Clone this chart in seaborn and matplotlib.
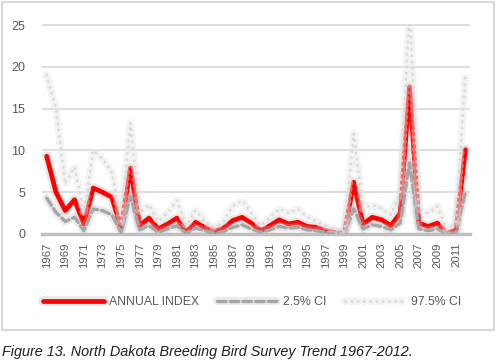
import numpy as np
import pandas as pd
import matplotlib
matplotlib.use("Agg")
import matplotlib.pyplot as plt
import matplotlib.patheffects as pe
from matplotlib.patches import Rectangle
import seaborn as sns

# ============================================================
# DATA
# ============================================================

years = list(range(1967, 2013))

annual_index = [9.3, 5.0, 2.8, 4.1, 1.2, 5.5, 5.0, 4.4, 0.7, 7.9,
                1.0, 1.9, 0.6, 1.2, 1.9, 0.2, 1.4, 0.8, 0.3, 0.7,
                1.6, 2.0, 1.3, 0.4, 1.0, 1.7, 1.2, 1.4, 0.9, 0.8,
                0.4, 0.2, 0.05, 6.2, 1.2, 2.0, 1.7, 1.0, 2.5, 17.6,
                1.3, 0.9, 1.3, 0.1, 0.5, 10.1]

ci_low = [4.3, 2.6, 1.5, 2.0, 0.4, 3.0, 2.8, 2.3, 0.2, 4.5,
          0.5, 1.0, 0.2, 0.6, 1.0, 0.1, 0.7, 0.4, 0.1, 0.3,
          0.8, 1.1, 0.6, 0.2, 0.5, 0.9, 0.7, 0.8, 0.5, 0.4,
          0.2, 0.1, 0.0, 3.0, 0.6, 1.1, 0.9, 0.5, 1.3, 8.5,
          0.6, 0.4, 0.6, 0.0, 0.2, 5.0]

ci_high = [19.0, 15.0, 6.0, 8.0, 2.5, 10.0, 9.0, 7.5, 1.5, 13.3,
           2.5, 3.5, 1.5, 2.5, 4.0, 1.0, 2.8, 1.5, 0.8, 1.5,
           3.3, 4.0, 2.5, 1.0, 2.0, 3.0, 2.5, 3.0, 2.0, 1.5,
           1.0, 0.5, 0.3, 12.0, 3.0, 3.5, 3.0, 2.3, 5.0, 27.0,
           3.0, 2.5, 3.3, 0.5, 1.5, 19.0]

yticks = [0, 5, 10, 15, 20, 25]

df = pd.DataFrame({
    "pos": np.arange(len(years)),
    "ANNUAL INDEX": annual_index,
    "2.5% CI": ci_low,
    "97.5% CI": ci_high,
})

# ============================================================
# STYLE
# ============================================================

sns.set_style("white")
plt.rcParams['font.family'] = ['Liberation Sans', 'DejaVu Sans']

txt_color = "#595959"

fig = plt.figure(figsize=(4.97, 3.63), dpi=100)

# chart frame
fig.patches.append(Rectangle(
    (2 / 497, 1 - 330 / 363), 492 / 497, 328 / 363,
    transform=fig.transFigure, fill=False,
    edgecolor="#d9d9d9", linewidth=1.5
))

ax = fig.add_axes([42 / 497, 1 - 234 / 363, 428 / 497, 210 / 363])

shadow = [pe.Stroke(linewidth=7, foreground="#bfbfbf", alpha=0.35),
          pe.Normal()]

sns.lineplot(
    data=df, x="pos", y="ANNUAL INDEX", ax=ax,
    color="#ff0000", linewidth=3.4, label="ANNUAL INDEX",
    solid_capstyle="round"
)

sns.lineplot(
    data=df, x="pos", y="2.5% CI", ax=ax,
    color="#a6a6a6", linewidth=2.4, label="2.5% CI",
    dashes=False
)

sns.lineplot(
    data=df, x="pos", y="97.5% CI", ax=ax,
    color="#d9d9d9", linewidth=2.0, label="97.5% CI",
    dashes=False
)

lines = ax.get_lines()
lines[0].set_path_effects(shadow)
lines[0].set_zorder(3)
lines[1].set_dashes([2.6, 1.2])
lines[1].set_dash_capstyle("round")
lines[1].set_path_effects(
    [pe.Stroke(linewidth=6, foreground="#bfbfbf", alpha=0.3), pe.Normal()])
lines[1].set_zorder(4)
lines[2].set_dashes([0.05, 2.2])
lines[2].set_dash_capstyle("round")
lines[2].set_path_effects(
    [pe.Stroke(linewidth=6, foreground="#e6e6e6", alpha=0.45), pe.Normal()])
lines[2].set_zorder(5)

ax.set_xlim(-0.5, len(years) - 0.5)
ax.set_ylim(0, 25.12)

ax.set_yticks(yticks)
ax.set_yticklabels([str(v) for v in yticks], color=txt_color, fontsize=9)
ax.yaxis.grid(True, color="#d9d9d9", linewidth=1.2)
ax.set_axisbelow(True)

ax.set_xticks(np.arange(0, len(years), 2))
ax.set_xticklabels([str(y) for y in years[::2]], rotation=90,
                   color=txt_color, fontsize=8.2)
ax.tick_params(axis="both", length=0, pad=6)
ax.tick_params(axis="y", pad=12)

for side in ["top", "right", "left"]:
    ax.spines[side].set_visible(False)
ax.spines["bottom"].set_color("#bfbfbf")
ax.spines["bottom"].set_linewidth(2.5)

ax.set_xlabel("")
ax.set_ylabel("")

ax.get_legend().remove()
handles, labels = ax.get_legend_handles_labels()
fig.legend(
    handles, labels, ncol=3, frameon=False,
    loc="center", bbox_to_anchor=(252 / 497, 1 - 302 / 363),
    fontsize=8.8, handlelength=5.0, columnspacing=1.5,
    handletextpad=0.4, labelcolor=txt_color
)

fig.text(2 / 497, 1 - 352 / 363,
         "Figure 13. North Dakota Breeding Bird Survey Trend 1967-2012.",
         fontsize=10.4, style="italic", color="#1f1f1f",
         ha="left", va="center")

fig.savefig("out.png", dpi=100)
